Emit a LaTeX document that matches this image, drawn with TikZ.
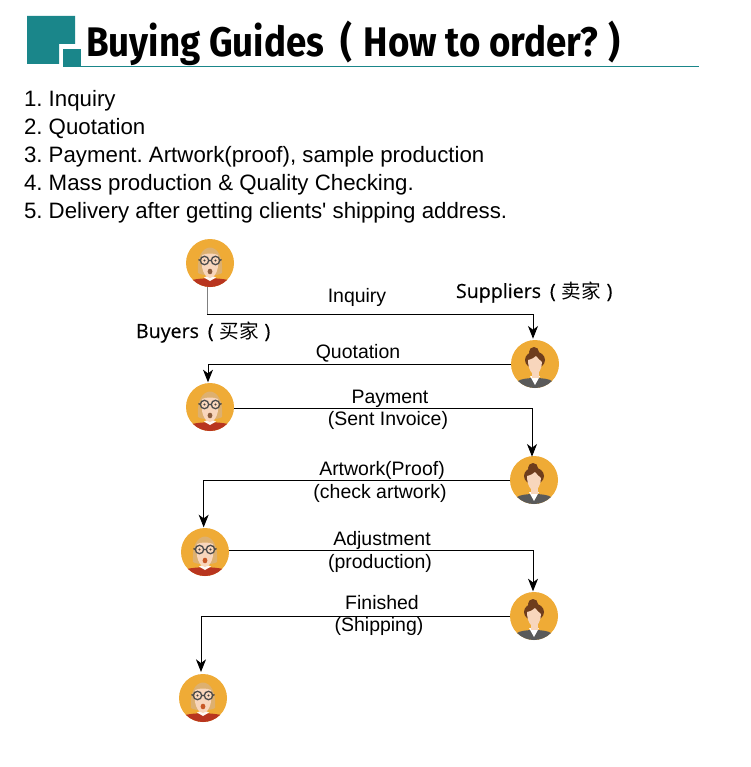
\documentclass[tikz,border=0pt]{standalone}
\usepackage{fontspec}
\setmainfont{Liberation Sans}
\newfontfamily\cjk{Noto Sans CJK SC}
\newfontfamily\rolefont{Open Sans}[FakeBold=0.35]
\newfontfamily\titlefont{Fira Sans}[UprightFont=*-Bold]
\usetikzlibrary{arrows.meta,calc}
\definecolor{teal1}{HTML}{1A868A}
\definecolor{skinO}{HTML}{EFAB36}
\definecolor{shirtR}{HTML}{B8351F}
\definecolor{hairB}{HTML}{DDB070}
\definecolor{skinF}{HTML}{F8D6BC}
\definecolor{hairS}{HTML}{6E3D1D}
\definecolor{suit}{HTML}{5A5A5A}
\tikzset{
  every node/.style={inner sep=0pt,outer sep=0pt},
  avatar/.style={circle,minimum size=36pt,fill=skinO},
  conn/.style={draw=black,line width=0.7pt,-{Stealth[length=9.5pt,width=7.5pt,inset=2.8pt]}},
  listtext/.style={anchor=base west,font=\fontsize{16.7pt}{18pt}\selectfont},
  lab/.style={anchor=base,font=\fontsize{14.6pt}{17pt}\selectfont},
  rolelab/.style={anchor=base west,font=\rolefont\fontsize{14.7pt}{18pt}\selectfont},
}
\newcommand{\buyer}[4]{%
  \node[avatar] (#1) at (#2,#3) {};
  \begin{scope}[shift={(#2,#3)}]
    \clip (0,0) circle (24);
    \fill[shirtR] (-24,24) -- (-24,19) .. controls (-14,14) and (14,14) .. (24,19) -- (24,24) -- cycle;
    \fill[white!85!skinF] (-6,14.5) -- (0,18) -- (6,14.5) -- (0,12) -- cycle;
    \fill[hairB] (-12,10) .. controls (-15,-24) and (15,-24) .. (12,10) .. controls (8,13) and (-8,13) .. (-12,10) -- cycle;
    \fill[skinF] (-8,-8) .. controls (-4,-10) and (4,-10) .. (8,-8) .. controls (10,6) and (5,15) .. (0,15) .. controls (-5,15) and (-10,6) .. (-8,-8) -- cycle;
    \draw[black!70,line width=1pt] (-5.5,-2.5) circle (4.2) (5.5,-2.5) circle (4.2) (-1.3,-2.5) -- (1.3,-2.5) (-9.7,-2.5) -- (-11.5,-3.5) (9.7,-2.5) -- (11.5,-3.5);
    \fill[black!75] (-5.5,-2.5) circle (1.2) (5.5,-2.5) circle (1.2);
    \fill[#4] (0,8.5) ellipse (2.4 and 2.8);
  \end{scope}}
\newcommand{\supplier}[3]{%
  \node[avatar] (#1) at (#2,#3) {};
  \begin{scope}[shift={(#2,#3)}]
    \clip (0,0) circle (24);
    \fill[suit] (-20,24) -- (-17,17) .. controls (-12,13) and (12,13) .. (17,17) -- (20,24) -- cycle;
    \fill[white] (-5,12) -- (0,21) -- (5,12) -- cycle;
    \fill[hairS] (-1,-12) circle (5);
    \fill[hairS] (0,-4) ellipse (10 and 8.5);
    \fill[skinF] (-3.5,5) rectangle (3.5,14) ;
    \fill[skinF] (-7,-4) .. controls (-3,-5) and (-1,-6) .. (1,-8) .. controls (3,-5) and (5,-4) .. (7,-2) .. controls (7,5) and (3,11) .. (0,11) .. controls (-3,11) and (-7,5) .. (-7,-4) -- cycle;
  \end{scope}}
\begin{document}
\frenchspacing
\begin{tikzpicture}[x=0.75pt,y=-0.75pt]
\useasboundingbox (0,0) rectangle (750,767);
\fill[white] (0,0) rectangle (750,767);
% header
\fill[teal1] (27,16) -- (75,16) -- (75,44) -- (59,44) -- (59,64) -- (27,64) -- cycle;
\fill[teal1] (63,49) rectangle (81,67);
\draw[teal1,line width=0.75pt] (81,66.5) -- (699,66.5);
\node[anchor=base west] (title) at (86,57) {\scalebox{0.888}[1]{\titlefont\fontsize{31pt}{36pt}\selectfont Buying Guides\hspace{0.45em}(\hspace{0.3em}How to order?\hspace{0.3em})}};
% list
\node[listtext] (l1) at (24,106) {1. Inquiry};
\node[listtext] (l2) at (24,134) {2. Quotation};
\node[listtext] (l3) at (24,162) {3. Payment. Artwork(proof), sample production};
\node[listtext] (l4) at (24,190) {4. Mass production \& Quality Checking.};
\node[listtext] (l5) at (24,218) {5. Delivery after getting clients\textquotesingle{} shipping address.};
% avatars
\buyer{b1}{210}{263}{hairS!80!skinF}
\supplier{s1}{535}{364}
\buyer{b2}{210}{407}{hairS!80!skinF}
\supplier{s2}{534}{480}
\buyer{b3}{205}{552}{shirtR!70!skinO}
\supplier{s3}{534}{616}
\buyer{b4}{203}{698}{shirtR!70!skinO}
% role labels
\node[rolelab] (rs) at (456,298) {Suppliers\hspace{0.45em}(\hspace{0.3em}{\cjk 卖家}\hspace{0.3em})};
\node[rolelab] (rb) at (136,338) {Buyers\hspace{0.45em}(\hspace{0.3em}{\cjk 买家}\hspace{0.3em})};
% connectors
\coordinate (c1) at ([xshift=-2.25pt]b1.south |- 0,314);
\draw[gray,line width=0.7pt] ([xshift=-2.25pt]b1.south) -- (c1);
\draw[conn] (c1) -| ([xshift=-1.5pt,yshift=1pt]s1.north);
\draw[conn] (s1.west) -| ([xshift=-1.5pt,yshift=0.5pt]b2.north);
\draw[conn] ([yshift=-0.75pt]b2.east) -| ([xshift=-1.5pt,yshift=-0.5pt]s2.north);
\draw[conn] (s2.west) -| ([xshift=-1pt,yshift=0.5pt]b3.north);
\draw[conn] ([yshift=1.5pt]b3.east) -| ([xshift=-0.75pt,yshift=0.5pt]s3.north);
\draw[conn] (s3.west) -| ([xshift=-1.5pt,yshift=1.5pt]b4.north);
% connector labels
\node[lab] (t1) at (357,302) {Inquiry};
\node[lab] (t2) at (358,358) {Quotation};
\node[lab] (t3) at (390,403) {Payment};
\node[lab] (t3b) at (388,425) {(Sent Invoice)};
\node[lab] (t4) at (382,475) {Artwork(Proof)};
\node[lab] (t4b) at (380,498) {(check artwork)};
\node[lab] (t5) at (382,545) {Adjustment};
\node[lab] (t5b) at (380,568) {(production)};
\node[lab] (t6) at (382,609) {Finished};
\node[lab] (t6b) at (379,631) {(Shipping)};
\end{tikzpicture}
\end{document}
